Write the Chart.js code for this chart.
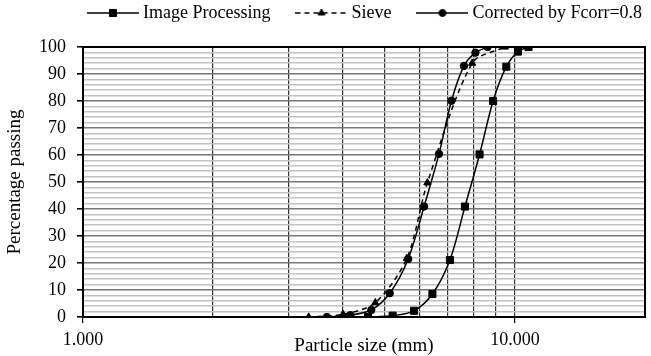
<!DOCTYPE html>
<html>
<head>
<meta charset="utf-8">
<script src="https://cdn.jsdelivr.net/npm/chart.js@4.4.0/dist/chart.umd.min.js"></script>
<style>
  body { margin: 0; background: #fff; }
  #cvs { display: block; }
</style>
</head>
<body>
<canvas id="cvs" width="651" height="356"></canvas>
<script>
// particle size (mm) / percentage passing
var imageSize = [4.57, 5.21, 5.84, 6.44, 7.07, 7.66, 8.28, 8.90, 9.55, 10.16, 10.75];
var imagePass = [0, 0.5, 2.3, 8.5, 21.1, 40.9, 60.2, 80, 92.7, 98.3, 100];
var sieveSize = [3.33, 4.0, 4.75, 5.62, 6.27, 7.96, 9.47];
var sievePass = [0, 1, 5.3, 21.7, 49.7, 94, 100];
var corrSize = [3.67, 4.16, 4.65, 5.13, 5.66, 6.16, 6.67, 7.13, 7.62, 8.10, 8.64];
var corrPass = [0, 0.7, 2.6, 8.8, 21.5, 40.9, 60.4, 80.1, 93, 97.9, 100];

var seriesNames = ["Image Processing", "Sieve", "Corrected by Fcorr=0.8"];
var xTicks = [1, 2, 3, 4, 5, 6, 7, 8, 9, 10, 20];
var xLabels = { 1: "1.000", 10: "10.000" };
var yLabels = [0, 10, 20, 30, 40, 50, 60, 70, 80, 90, 100];
var yMinorStep = 2;

var serif = "'Liberation Serif', 'Times New Roman', serif";
Chart.defaults.font.family = serif;
Chart.defaults.color = "#000";

function pts(xs, ys) {
	return xs.map(function (x, i) { return { x: x, y: ys[i] }; });
}

// legend symbol: line with marker in the middle
function legendSymbol(style, radius, dashed) {
	var c = document.createElement("canvas");
	c.width = 52;
	c.height = 12;
	var g = c.getContext("2d");
	g.strokeStyle = "#000";
	g.fillStyle = "#000";
	g.lineWidth = 1.5;
	if (dashed) g.setLineDash([5, 4]);
	g.beginPath();
	g.moveTo(0, 6);
	g.lineTo(52, 6);
	g.stroke();
	g.setLineDash([]);
	g.lineWidth = 1;
	Chart.helpers.drawPoint(g, { pointStyle: style, radius: radius, borderWidth: 1 }, 26, 6);
	return c;
}
var symbols = [
	legendSymbol("rect", 5, false),
	legendSymbol("triangle", 4, true),
	legendSymbol("circle", 3.5, false)
];

var yTickValues = [];
for (var v = yLabels[0]; v <= yLabels[yLabels.length - 1]; v += yMinorStep) yTickValues.push(v);

var frame = {
	id: "frame",
	afterLayout: function (chart) {
		// put the legend where the original has it
		chart.legend.left = 62;
		chart.legend.right = 1000;
		chart.legend.top = -26;
	},
	beforeDatasetsDraw: function (chart) {
		var a = chart.chartArea, ctx = chart.ctx;
		ctx.save();
		ctx.strokeStyle = "#000";
		ctx.lineWidth = 2;
		ctx.strokeRect(a.left, a.top, a.right - a.left, a.bottom - a.top);
		ctx.restore();
	}
};

var chart = new Chart("cvs", {
	type: "scatter",
	data: {
		datasets: [{
			label: seriesNames[0],
			data: pts(imageSize, imagePass),
			showLine: true,
			borderColor: "#000",
			backgroundColor: "#000",
			borderWidth: 1.5,
			tension: 0.3,
			pointStyle: "rect",
			pointRadius: 5,
			pointBorderWidth: 1
		}, {
			label: seriesNames[1],
			data: pts(sieveSize, sievePass),
			showLine: true,
			borderColor: "#000",
			backgroundColor: "#000",
			borderWidth: 1.5,
			borderDash: [5, 4],
			tension: 0.3,
			pointStyle: "triangle",
			pointRadius: 4.2,
			pointBorderWidth: 1
		}, {
			label: seriesNames[2],
			data: pts(corrSize, corrPass),
			showLine: true,
			borderColor: "#000",
			backgroundColor: "#000",
			borderWidth: 1.5,
			tension: 0.3,
			pointStyle: "circle",
			pointRadius: 3.7,
			pointBorderWidth: 1
		}]
	},
	options: {
		responsive: false,
		animation: false,
		layout: { padding: { left: 0, right: 3, top: 0, bottom: 0 } },
		plugins: {
			tooltip: { enabled: false },
			legend: {
				position: "top",
				align: "start",
				maxHeight: 47,
				labels: {
					usePointStyle: true,
					pointStyleWidth: 42,
					padding: 30,
					color: "#000",
					font: { family: serif, size: 18 },
					generateLabels: function (chart) {
						var items = Chart.defaults.plugins.legend.labels.generateLabels(chart);
						items.forEach(function (it, i) { it.pointStyle = symbols[i]; });
						return items;
					}
				}
			}
		},
		scales: {
			x: {
				type: "logarithmic",
				min: 1,
				max: 20,
				afterBuildTicks: function (scale) {
					scale.ticks = xTicks.map(function (v) { return { value: v }; });
				},
				afterFit: function (scale) { scale.height = 39; },
				ticks: {
					autoSkip: false,
					maxRotation: 0,
					padding: 6,
					font: { family: serif, size: 18 },
					callback: function (value) { return xLabels[value] || ""; }
				},
				grid: {
					color: "#333",
					lineWidth: 1.2,
					tickLength: 6,
					tickColor: function (ctx) {
						return ctx.tick && xLabels[ctx.tick.value] ? "#000" : "rgba(0,0,0,0)";
					}
				},
				border: { color: "#000", width: 2 },
				title: {
					display: true,
					text: "Particle size (mm)",
					font: { family: serif, size: 19, lineHeight: 1 },
					padding: { top: 0, bottom: 0 }
				}
			},
			y: {
				min: 0,
				max: 100,
				afterBuildTicks: function (scale) {
					scale.ticks = yTickValues.map(function (v) { return { value: v }; });
				},
				afterFit: function (scale) { scale.width = 83; },
				ticks: {
					autoSkip: false,
					padding: 11,
					font: { family: serif, size: 18 },
					callback: function (value) { return yLabels.indexOf(value) >= 0 ? String(value) : ""; }
				},
				grid: {
					color: function (ctx) {
						return ctx.tick && yLabels.indexOf(ctx.tick.value) >= 0 ? "#777" : "#c2c2c2";
					},
					lineWidth: 1.6,
					tickLength: 6,
					tickColor: function (ctx) {
						return ctx.tick && yLabels.indexOf(ctx.tick.value) >= 0 ? "#000" : "rgba(0,0,0,0)";
					}
				},
				border: { color: "#000", width: 2 },
				title: {
					display: true,
					text: "Percentage passing",
					font: { family: serif, size: 19 },
					padding: { top: 4, bottom: 0 }
				}
			}
		}
	},
	plugins: [frame]
});
</script>
</body>
</html>
